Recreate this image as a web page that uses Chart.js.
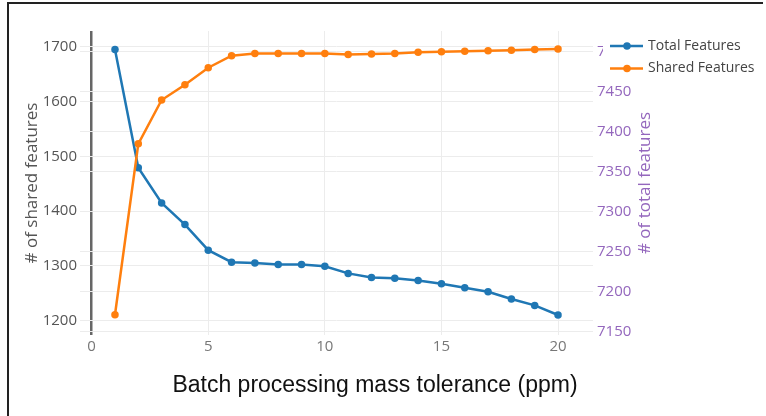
<!DOCTYPE html>
<html lang="en">
<head>
  <meta charset="UTF-8" />
  <title>Batch tolerance vs features</title>
  <script src="https://cdn.jsdelivr.net/npm/chart.js"></script>
  <style>
    html, body { margin: 0; padding: 0; background: #fff; }
    .wrap { position: relative; width: 766px; height: 416px; overflow: hidden; }
    .frame {
      position: absolute; left: 7px; top: 2px; right: 3px; bottom: -4px;
      border-top: 2px solid #222; border-left: 2px solid #222;
    }
    canvas { position: absolute; left: 0; top: 0; }
  </style>
</head>
<body>
  <div class="wrap">
    <div class="frame"></div>
    <canvas id="chart" width="766" height="416"></canvas>
  </div>

  <script>
    // values
    const tolerance = [1, 2, 3, 4, 5, 6, 7, 8, 9, 10, 11, 12, 13, 14, 15, 16, 17, 18, 19, 20];
    const totalFeatures = [7503, 7355, 7311, 7284, 7252, 7237, 7236, 7234, 7234, 7232,
                           7223, 7218, 7217, 7214, 7210, 7205, 7200, 7191, 7183, 7171];
    const sharedFeatures = [1211, 1523, 1603, 1631, 1662, 1684, 1688, 1688, 1688, 1688,
                            1686, 1687, 1688, 1690, 1691, 1692, 1693, 1694, 1695, 1696];

    const xTicks = [0, 5, 10, 15, 20];
    const sharedTicks = [1200, 1300, 1400, 1500, 1600, 1700];
    const totalTicks = [7150, 7200, 7250, 7300, 7350, 7400, 7450, 7500];

    const blue = "#1f77b4";
    const orange = "#ff7f0e";
    const purple = "#9467bd";
    const tickFont = { family: "'Open Sans', sans-serif", size: 15 };

    const toPoints = (ys) => tolerance.map((x, i) => ({ x, y: ys[i] }));
    const setTicks = (list) => (scale) => { scale.ticks = list.map(v => ({ value: v })); };
    const plain = (v) => String(v);

    // legend + right-hand title + x title drawn by hand (plotly-like placement)
    const extras = {
      id: "extras",
      afterDraw(chart) {
        const ctx = chart.ctx;
        const area = chart.chartArea;
        ctx.save();

        // right axis title, reads bottom to top
        ctx.fillStyle = purple;
        ctx.font = "17px 'Open Sans', sans-serif";
        ctx.textAlign = "center";
        ctx.textBaseline = "middle";
        ctx.translate(645, (area.top + area.bottom) / 2);
        ctx.rotate(-Math.PI / 2);
        ctx.fillText("# of total features", 0, 0);
        ctx.setTransform(1, 0, 0, 1, 0, 0);

        // x title
        ctx.fillStyle = "#111";
        ctx.font = "23px 'Liberation Sans', Arial, sans-serif";
        ctx.fillText("Batch processing mass tolerance (ppm)", 375, 386);

        // legend box (white, covers the end of the top tick label)
        ctx.fillStyle = "#fff";
        ctx.fillRect(603, 34, 163, 46);
        chart.data.datasets.forEach((ds, i) => {
          const y = 46 + i * 22.5;
          ctx.strokeStyle = ds.borderColor;
          ctx.lineWidth = 2.5;
          ctx.beginPath();
          ctx.moveTo(610, y);
          ctx.lineTo(643, y);
          ctx.stroke();
          ctx.fillStyle = ds.borderColor;
          ctx.beginPath();
          ctx.arc(627, y, 3.75, 0, Math.PI * 2);
          ctx.fill();
          ctx.fillStyle = "#444";
          ctx.font = "14px 'Open Sans', sans-serif";
          ctx.textAlign = "left";
          ctx.fillText(ds.label, 648, y);
        });
        ctx.restore();
      }
    };

    new Chart(document.getElementById("chart"), {
      type: "line",
      data: {
        datasets: [
          {
            label: "Total Features",
            data: toPoints(totalFeatures),
            yAxisID: "yTotal",
            borderColor: blue,
            backgroundColor: blue,
            borderWidth: 2.5,
            pointRadius: 3.75,
            pointBorderWidth: 0,
            order: 1
          },
          {
            label: "Shared Features",
            data: toPoints(sharedFeatures),
            yAxisID: "yShared",
            borderColor: orange,
            backgroundColor: orange,
            borderWidth: 2.5,
            pointRadius: 3.75,
            pointBorderWidth: 0,
            order: 0
          }
        ]
      },
      options: {
        responsive: false,
        animation: false,
        layout: { padding: { top: 31, right: 103, bottom: 0, left: 0 } },
        plugins: {
          legend: { display: false },
          tooltip: { enabled: false }
        },
        scales: {
          x: {
            type: "linear",
            min: -0.5,
            max: 21.5,
            afterBuildTicks: setTicks(xTicks),
            afterFit: (s) => { s.height = 81; },
            ticks: { font: tickFont, color: "#777", padding: 3, maxRotation: 0, callback: plain },
            grid: {
              drawTicks: false,
              color: (c) => c.tick && c.tick.value === 0 ? "#666" : "#ececec",
              lineWidth: (c) => c.tick && c.tick.value === 0 ? 2.5 : 1
            },
            border: { display: false }
          },
          yShared: {
            type: "linear",
            position: "left",
            min: 1174,
            max: 1729,
            afterBuildTicks: setTicks(sharedTicks),
            afterFit: (s) => { s.width = 80; },
            ticks: { font: tickFont, color: "#555", padding: 3, callback: plain },
            grid: { drawTicks: false, color: "#ececec" },
            border: { display: false },
            title: {
              display: true,
              text: "# of shared features",
              color: "#555",
              font: { family: "'Open Sans', sans-serif", size: 17 },
              padding: { top: 22, bottom: 0 }
            }
          },
          yTotal: {
            type: "linear",
            position: "right",
            min: 7146,
            max: 7526,
            afterBuildTicks: setTicks(totalTicks),
            afterFit: (s) => { s.width = 70; },
            ticks: { font: tickFont, color: purple, padding: 4, callback: plain },
            grid: { drawTicks: false, color: "#ececec" },
            border: { display: false }
          }
        }
      },
      plugins: [extras]
    });
  </script>
</body>
</html>
